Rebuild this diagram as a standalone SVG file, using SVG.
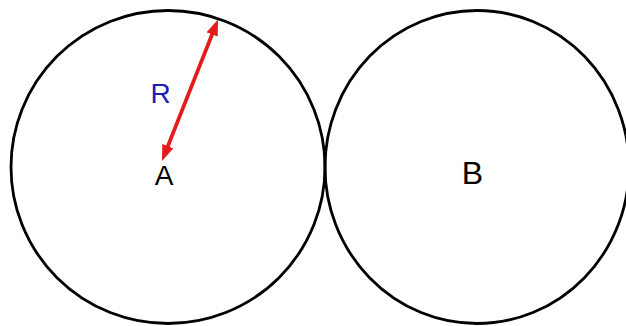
<svg xmlns="http://www.w3.org/2000/svg" width="626" height="326" viewBox="0 0 626 326">
  <style>
    .circle { fill: none; stroke: #000; stroke-width: 2.8; }
    .label { font-family: "Liberation Sans", Arial, sans-serif; text-anchor: middle; }
    .radius { stroke: #e51a1a; stroke-width: 3.8; fill: none; }
  </style>
  <defs>
    <marker id="head" viewBox="0 0 16 12" refX="7" refY="6" markerWidth="16" markerHeight="12" markerUnits="userSpaceOnUse" orient="auto-start-reverse">
      <path d="M0,0 L16,6 L0,12 z" fill="#e51a1a"/>
    </marker>
  </defs>
  <rect width="626" height="326" fill="#fff"/>
  <g id="nodeA">
    <ellipse class="circle" cx="168" cy="167" rx="157" ry="156.5"/>
    <text class="label" x="164" y="185" font-size="28" fill="#000">A</text>
  </g>
  <g id="nodeB">
    <ellipse class="circle" cx="477" cy="167" rx="152" ry="156.5"/>
    <text class="label" x="472.5" y="183.5" font-size="32" fill="#000">B</text>
  </g>
  <g id="connectors">
    <line class="radius" x1="165.3" y1="152.6" x2="214.7" y2="27.9" marker-start="url(#head)" marker-end="url(#head)"/>
    <text class="label" x="160.5" y="103" font-size="28" fill="#1c1cb0">R</text>
  </g>
</svg>
